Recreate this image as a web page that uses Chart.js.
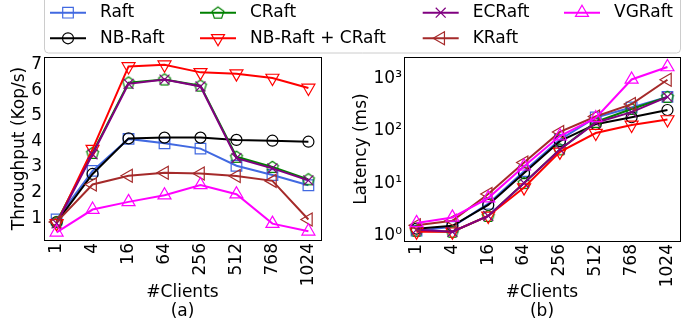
<!DOCTYPE html>
<html>
<head>
<meta charset="utf-8">
<script src="https://cdn.jsdelivr.net/npm/chart.js@4.4.1/dist/chart.umd.min.js"></script>
<style>
  html, body { margin: 0; background: #fff; }
  #wrap { position: relative; width: 697px; height: 323px; }
  canvas { position: absolute; left: 0; top: 0; }
</style>
</head>
<body>
<div id="wrap">
  <canvas id="tput" width="697" height="323"></canvas>
  <canvas id="lat" width="697" height="323"></canvas>
</div>
<script>
// x categories
const clients = ['1', '4', '16', '64', '256', '512', '768', '1024'];
const seriesNames = ['Raft', 'NB-Raft', 'CRaft', 'NB-Raft + CRaft', 'ECRaft', 'KRaft', 'VGRaft'];

// (a) throughput, Kop/s
const raftTput    = [0.95, 2.85, 4.10, 3.93, 3.72, 3.05, 2.69, 2.29];
const nbRaftTput  = [0.85, 2.73, 4.12, 4.15, 4.15, 4.06, 4.03, 3.99];
const cRaftTput   = [0.85, 3.55, 6.30, 6.42, 6.18, 3.40, 3.00, 2.52];
const nbCRaftTput = [0.80, 3.70, 6.93, 7.00, 6.70, 6.65, 6.48, 6.09];
const ecRaftTput  = [0.80, 3.50, 6.25, 6.42, 6.15, 3.35, 2.95, 2.48];
const kRaftTput   = [0.85, 2.32, 2.66, 2.78, 2.75, 2.65, 2.46, 0.95];
const vgRaftTput  = [0.45, 1.34, 1.64, 1.90, 2.30, 1.94, 0.79, 0.49];

// (b) latency, ms
const raftLat    = [1.10, 1.30, 3.6, 15.0, 60, 158, 245, 390];
const nbRaftLat  = [1.20, 1.36, 3.4, 13.8, 56, 118, 160, 220];
const cRaftLat   = [1.10, 1.05, 2.1, 8.9, 39, 130, 230, 390];
const nbCRaftLat = [1.05, 1.05, 2.1, 7.3, 35, 80, 114, 145];
const ecRaftLat  = [1.15, 1.05, 2.1, 8.9, 39, 126, 200, 390];
const kRaftLat   = [1.40, 1.70, 5.5, 22.0, 84, 165, 285, 830];
const vgRaftLat  = [1.55, 1.97, 4.6, 18.6, 70, 155, 840, 1450];

// tick labels
const tputTicks = [1, 2, 3, 4, 5, 6, 7];
const latTicks = [1, 10, 100, 1000];
const sup = ['\u2070', '\u00b9', '\u00b2', '\u00b3'];

const FONT = 'DejaVu Sans';

// matplotlib-like pentagon marker, Chart.js has none
function makePentagon(color) {
  const c = document.createElement('canvas');
  c.width = 16; c.height = 16;
  const g = c.getContext('2d');
  g.beginPath();
  for (let k = 0; k < 5; k++) {
    const a = -Math.PI / 2 + k * 2 * Math.PI / 5;
    const px = 8 + 6.2 * Math.cos(a), py = 8.4 + 6.2 * Math.sin(a);
    k ? g.lineTo(px, py) : g.moveTo(px, py);
  }
  g.closePath();
  g.strokeStyle = color;
  g.lineWidth = 1.2;
  g.stroke();
  return c;
}

const markers = [
  { color: '#4169E1', pointStyle: 'rect', radius: 7.5, rotation: 0 },
  { color: '#000000', pointStyle: 'circle', radius: 5.5, rotation: 0 },
  { color: '#008000', pointStyle: makePentagon('#008000'), radius: 6, rotation: 0 },
  { color: '#FF0000', pointStyle: 'triangle', radius: 7.5, rotation: 180 },
  { color: '#800080', pointStyle: 'crossRot', radius: 7, rotation: 0 },
  { color: '#A52A2A', pointStyle: 'triangle', radius: 7.5, rotation: 270 },
  { color: '#FF00FF', pointStyle: 'triangle', radius: 7.5, rotation: 0 },
];

function makeDatasets(seriesValues) {
  return seriesValues.map((vals, i) => ({
    label: seriesNames[i],
    data: vals.map((v, j) => ({ x: j, y: v })),
    borderColor: markers[i].color,
    backgroundColor: 'rgba(0,0,0,0)',
    borderWidth: 2,
    pointStyle: markers[i].pointStyle,
    pointRadius: markers[i].radius,
    pointRotation: markers[i].rotation,
    pointBorderColor: markers[i].color,
    pointBackgroundColor: 'rgba(0,0,0,0)',
    pointBorderWidth: 1.2,
    tension: 0,
    order: seriesValues.length - i, // later series on top, like matplotlib
  }));
}

function xScale(sub, h) {
  return {
    type: 'linear',
    min: -0.35,
    max: clients.length - 1 + 0.35,
    afterBuildTicks: s => { s.ticks = clients.map((c, i) => ({ value: i })); },
    afterFit: s => { s.height = h; },
    grid: { display: false, drawTicks: false },
    border: { display: false },
    ticks: {
      autoSkip: false, minRotation: 90, maxRotation: 90, padding: 3,
      color: '#000', font: { family: FONT, size: 17 },
      callback: v => clients[v],
    },
    title: {
      display: true, text: ['#Clients', sub], color: '#000',
      font: { family: FONT, size: 17, lineHeight: 1.1 },
      padding: { top: 0, bottom: 2 },
    },
  };
}

// box around the plot area
const framePlugin = {
  id: 'frame',
  afterDatasetsDraw(chart) {
    const { ctx, chartArea: a } = chart;
    ctx.save();
    ctx.strokeStyle = '#000';
    ctx.lineWidth = 1;
    ctx.strokeRect(Math.round(a.left) + 0.5, Math.round(a.top) + 0.5,
      Math.round(a.right - a.left), Math.round(a.bottom - a.top));
    ctx.restore();
  }
};

// shared legend across the top, 4 columns filled column-first
const legendCols = [50, 200, 422.7, 564];
const legendRows = [12.7, 38.3];
const legendPlugin = {
  id: 'figLegend',
  afterDraw(chart) {
    const ctx = chart.ctx;
    ctx.save();
    ctx.beginPath();
    ctx.roundRect(44.5, -5.5, 636, 58.5, 4);
    ctx.fillStyle = 'rgba(255,255,255,0.8)';
    ctx.fill();
    ctx.strokeStyle = '#cccccc';
    ctx.lineWidth = 1;
    ctx.stroke();
    seriesNames.forEach((name, i) => {
      const x0 = legendCols[Math.floor(i / 2)];
      const y = legendRows[i % 2];
      const m = markers[i];
      ctx.beginPath();
      ctx.moveTo(x0, y);
      ctx.lineTo(x0 + 36, y);
      ctx.strokeStyle = m.color;
      ctx.lineWidth = 2;
      ctx.stroke();
      ctx.strokeStyle = m.color;
      ctx.fillStyle = 'rgba(0,0,0,0)';
      ctx.lineWidth = 1.2;
      Chart.helpers.drawPoint(ctx, { pointStyle: m.pointStyle, rotation: m.rotation, radius: m.radius, borderWidth: 1.2 }, x0 + 18, y);
      ctx.fillStyle = '#000';
      ctx.font = '17px "' + FONT + '"';
      ctx.textBaseline = 'middle';
      ctx.textAlign = 'left';
      ctx.fillText(name, x0 + 50, y);
    });
    ctx.restore();
  }
};

const common = {
  responsive: false,
  animation: false,
  devicePixelRatio: 1,
  events: [],
  plugins: { legend: { display: false }, tooltip: { enabled: false } },
};

new Chart(document.getElementById('tput'), {
  type: 'line',
  data: { datasets: makeDatasets([raftTput, nbRaftTput, cRaftTput, nbCRaftTput, ecRaftTput, kRaftTput, vgRaftTput]) },
  options: {
    ...common,
    layout: { padding: { left: 0, right: 376, top: 57, bottom: 0 } },
    scales: {
      x: xScale('(a)', 83),
      y: {
        type: 'linear', min: 0.15, max: 7.3,
        afterBuildTicks: s => { s.ticks = tputTicks.map(v => ({ value: v })); },
        afterFit: s => { s.width = 44; },
        grid: { display: false, drawTicks: false },
        border: { display: false },
        ticks: { padding: 2, color: '#000', font: { family: FONT, size: 17 } },
        title: {
          display: true, text: 'Throughput (Kop/s)', color: '#000',
          font: { family: FONT, size: 17, lineHeight: 1.1 },
          padding: { top: 10.5, bottom: 0 },
        },
      },
    },
  },
  plugins: [framePlugin, legendPlugin],
});

new Chart(document.getElementById('lat'), {
  type: 'line',
  data: { datasets: makeDatasets([raftLat, nbRaftLat, cRaftLat, nbCRaftLat, ecRaftLat, kRaftLat, vgRaftLat]) },
  options: {
    ...common,
    layout: { padding: { left: 344, right: 17, top: 57, bottom: 0 } },
    scales: {
      x: xScale('(b)', 82),
      y: {
        type: 'logarithmic', min: 0.72, max: 2250,
        afterBuildTicks: s => { s.ticks = latTicks.map(v => ({ value: v })); },
        afterFit: s => { s.width = 60; },
        grid: { display: false, drawTicks: false },
        border: { display: false },
        ticks: {
          padding: 2, labelOffset: 3, color: '#000', font: { family: FONT, size: 17 },
          callback: v => '10' + sup[Math.round(Math.log10(v))],
        },
        title: {
          display: true, text: 'Latency (ms)', color: '#000',
          font: { family: FONT, size: 17, lineHeight: 1.1 },
          padding: { top: 8.3, bottom: 0 },
        },
      },
    },
  },
  plugins: [framePlugin],
});
</script>
</body>
</html>
